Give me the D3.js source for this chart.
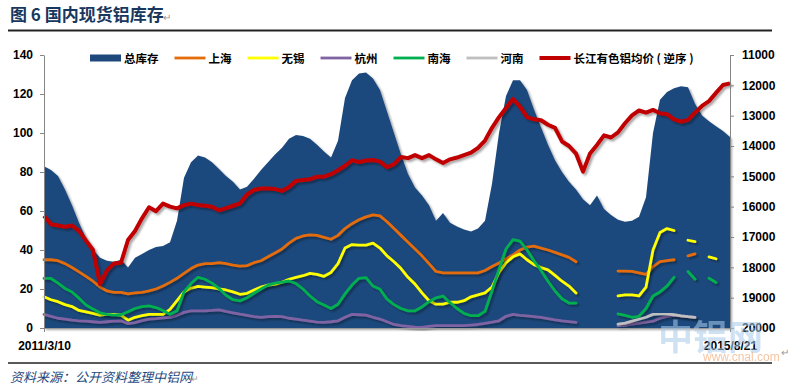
<!DOCTYPE html>
<html><head><meta charset="utf-8">
<script src="https://cdn.jsdelivr.net/npm/d3@7"></script>
<style>
body{margin:0;background:#fff;}
svg{display:block;}
</style></head>
<body><svg id="c" width="793" height="389"></svg>
<script>
const xLabels = ["2011/3/10", "2015/8/21"];
const leftTicks = [0, 20, 40, 60, 80, 100, 120, 140];
const rightTicks = [11000, 12000, 13000, 14000, 15000, 16000, 17000, 18000, 19000, 20000];
const seriesNames = ["总库存", "上海", "无锡", "杭州", "南海", "河南", "长江有色铝均价 ( 逆序 )"];

const total = [83,81,78,71,63,54,46,40,36,34.5,
34,35,31,36,38,40,41.5,42,44,55,
77,85,88.5,87.5,85,81.5,78,75,71,72.5,
76.5,81,85,89,92.5,97,99,98.5,97,94,
90.5,87.5,96,118,127,130.5,131,128,122,111,
100,89,79,72,68,63,55,59,54,52,
50.5,49.5,51,55,74,100,119,127,127,122,
112,103,94,86,80,75,71,66,63,68,
61,58,55.5,54.5,55,57,67,100,117,121,
123,124,123.5,115,109,106,103.5,101,98];

const shanghai = [35,35,34.5,33,31,28.8,26.5,24,21,19,
18.3,18.3,17.5,18,18.3,19,20,21.5,23.4,25.5,
28,30.5,32.3,33,33,33.5,33,32.3,31.7,32,
33.5,34.5,36.5,38.5,40.5,43.5,46,47.2,47.8,47.5,
46.5,45.5,47.5,51,53.5,55.5,57,58,57.5,54.5,
51,47.5,44,40.5,37,33,29,28.3,28.3,28.3,
28.3,28.3,28.3,29.5,31.5,33.3,35.5,37.5,40,41.5,
42,41,40,38.8,37.5,36.2,34,null,null,null,
null,null,29.2,29.2,29,28.3,27.5,31.5,34,34.5,
35,null,37,38,null,null,null,null,null];

const wuxi = [16,14.5,13.5,12,11,9,8.3,7.5,6.6,7,
7,6.6,4,5.5,6.3,7,7,7,9.5,14,
18.5,20.5,21.3,21,20.7,20,19.5,18.5,17.3,17.8,
19.5,21,22,22.4,23.5,25,26,26.8,28,27.5,
26.5,28.5,33,41,42.8,42.5,42.5,43.5,41,37,
34,30.5,26,22.5,18,14,12.2,12.2,13.2,13.2,
14,16,17,18,21,28.5,33.5,36.5,38,35,
32.5,31,29.8,27,24,21.5,18,null,null,null,
null,null,16.5,17,17,16.5,21,40,49,51,
50,null,45,44.3,null,36.5,35.5,null,null];

const hangzhou = [7,6,5,4.6,4,3.7,3.5,3.2,2.9,3.2,
3.5,3.7,2.2,2.8,3.8,4.5,4.8,5.2,5.4,6.5,
8,8.8,8.8,8.8,9,9.3,8.5,7.8,7.1,6.5,
5.8,5.4,5.8,6,5.8,5,4.6,4,3.5,3,
2.9,3.2,3.7,5.5,7,6.8,6.6,5.5,4.6,3.2,
1.8,1.2,0.8,0.4,0.3,0.8,1.2,1.2,1.2,1.2,
1.2,1.5,1.8,2.4,3,3.7,6,7,6.5,6.2,
5.8,5.4,4.8,4.2,3.7,3.3,2.9,null,null,null,
null,null,1.2,1.5,2,2.5,3,3.5,5,6,
6.5,6.2,5.8,5.5,null,null,null,null,null];

const nanhai = [25.4,25.4,23,20.3,18.5,15.3,11.8,9.7,7.8,7,
6.6,6.8,8.3,10,11,11.4,10.5,9,7,8.8,
18.5,22.8,26,25,23,20.3,16.8,14.5,13.9,15.5,
17.8,20,22,23,23.5,24.1,22.8,20,16.4,13.5,
11.8,10,12.2,17.5,22,25.5,25.8,21.5,19.9,14.8,
12,10,8.8,8.8,10.8,13.5,15.5,16.4,13,10,
7.5,6.3,6.3,8.5,19,30,40.5,45.3,44.5,40,
34.5,29.5,24,19,15,12.8,12.8,null,null,null,
null,null,7.2,6.5,5.5,6,10,16.4,18.5,21.5,
26,null,29,25,null,25.5,23.3,null,null];

const henan = [null,null,null,null,null,null,null,null,null,null,
null,null,null,null,null,null,null,null,null,null,
null,null,null,null,null,null,null,null,null,null,
null,null,null,null,null,null,null,null,null,null,
null,null,null,null,null,null,null,null,null,null,
null,null,null,null,null,null,null,null,null,null,
null,null,null,null,null,null,null,null,null,null,
null,null,null,null,null,null,null,null,null,null,
null,null,2,2.5,3.5,4.5,5.5,7,7.3,7.3,
6.8,6.2,5.8,5.5,null,null,null,null,null];

const price = [16300,16580,16620,16660,16620,16800,17120,17430,18550,18100,
17870,17850,17100,16800,16385,16020,16150,15900,16000,16055,
15950,15900,15945,15970,16000,16120,16050,15970,15890,15600,
15450,15400,15400,15420,15480,15350,15150,15120,15100,15010,
15010,14930,14800,14650,14470,14530,14480,14460,14515,14700,
14600,14360,14400,14300,14400,14300,14440,14560,14440,14380,
14300,14220,14060,13820,13400,13050,12750,12450,12700,13050,
13120,13150,13300,13400,13850,14000,14250,14845,14250,13965,
13650,13720,13550,13250,12990,12830,12900,12810,12920,12950,
13120,13200,13140,12900,12680,12520,12250,11990,11935];

const colors = ["#1F497D", "#E46C0A", "#FFFF00", "#8064A2", "#00B050", "#BFBFBF", "#C00000"];

const svg = d3.select("#c");
const defs = svg.append("defs");
const f = defs.append("filter").attr("id","sh").attr("x","-5%").attr("y","-5%").attr("width","115%").attr("height","120%");
f.append("feDropShadow").attr("dx",2).attr("dy",2).attr("stdDeviation",1.3).attr("flood-color","#000").attr("flood-opacity",0.35);

const N = total.length;
const x = d3.scaleLinear().domain([0, N - 1]).range([44, 730]);
const yL = d3.scaleLinear().domain([0, 140]).range([328, 55]);
const yR = d3.scaleLinear().domain([11000, 20000]).range([55, 328]);

const numFont = "'Liberation Sans', Arial, sans-serif";
const cjkFont = "'Noto Sans CJK SC', 'Noto Sans', sans-serif";

// title
svg.append("text").attr("x", 10).attr("y", 21).attr("font-family", cjkFont)
  .attr("font-size", 17).attr("font-weight", "bold").attr("fill", "#17375E").text("图 6 国内现货铝库存");
svg.append("text").attr("x", 163).attr("y", 21).attr("font-family", numFont)
  .attr("font-size", 10).attr("fill", "#999").text("↵");

// rules
svg.append("line").attr("x1", 8).attr("x2", 772).attr("y1", 30.5).attr("y2", 30.5).attr("stroke", "#222").attr("stroke-width", 2);
svg.append("line").attr("x1", 8).attr("x2", 772).attr("y1", 363).attr("y2", 363).attr("stroke", "#222").attr("stroke-width", 1.5);

// area
const area = d3.area().x((d, i) => x(i)).y0(yL(0)).y1(d => yL(d));
svg.append("path").datum(total).attr("d", area).attr("fill", colors[0]).attr("filter", "url(#sh)");

// lines
const lineL = d3.line().defined(d => d != null).x((d, i) => x(i)).y(d => yL(d));
const lineR = d3.line().x((d, i) => x(i)).y(d => yR(d));
const lineSeries = [shanghai, wuxi, hangzhou, nanhai, henan];
lineSeries.forEach((s, k) => {
  svg.append("path").datum(s).attr("d", lineL).attr("fill", "none")
    .attr("stroke", colors[k + 1]).attr("stroke-width", 2.8).attr("stroke-linejoin", "round").attr("stroke-linecap", "round")
    .attr("filter", "url(#sh)");
});
svg.append("path").datum(price).attr("d", lineR).attr("fill", "none")
  .attr("stroke", colors[6]).attr("stroke-width", 4).attr("stroke-linejoin", "round").attr("filter", "url(#sh)");

// axes
const axL = svg.append("g").attr("transform", "translate(44,0)")
  .call(d3.axisLeft(yL).tickValues(leftTicks).tickSize(4).tickSizeOuter(0).tickPadding(7));
const axR = svg.append("g").attr("transform", "translate(730,0)")
  .call(d3.axisRight(yR).tickValues(rightTicks).tickSize(4).tickSizeOuter(0).tickPadding(8).tickFormat(d3.format("d")));
const axB = svg.append("g").attr("transform", "translate(0,328)")
  .call(d3.axisBottom(x).tickValues([0, N - 1]).tickSize(4).tickSizeOuter(0).tickPadding(9).tickFormat((d, i) => xLabels[i]));
[axL, axR, axB].forEach(a => {
  a.selectAll("path.domain").attr("stroke", "#868686");
  a.selectAll(".tick line").attr("stroke", "#868686");
  a.selectAll("text").attr("font-family", numFont).attr("font-size", 12).attr("font-weight", "bold").attr("fill", "#000");
});
axB.select("path.domain").attr("stroke", "#9a9a9a");

// legend
const lg = svg.append("g").attr("transform", "translate(90,58)");
let lx = 0;
seriesNames.forEach((name, k) => {
  const g = lg.append("g").attr("transform", `translate(${lx},0)`);
  if (k === 0) {
    g.append("rect").attr("x", 0).attr("y", -3.5).attr("width", 31).attr("height", 7).attr("fill", colors[0]);
  } else {
    g.append("line").attr("x1", 0).attr("x2", 31).attr("y1", 0).attr("y2", 0)
      .attr("stroke", colors[k]).attr("stroke-width", k === 6 ? 4 : 2.8);
  }
  const t = g.append("text").attr("x", 34).attr("y", 4.5).attr("font-family", cjkFont)
    .attr("font-size", 11.5).attr("font-weight", "bold").attr("fill", "#000").attr("xml:space", "preserve").text(name);
  lx += 34 + t.node().getComputedTextLength() + 16;
});

// watermark (semi-transparent, over the chart as in the reference)
svg.append("text").attr("x", 658).attr("y", 350).attr("font-family", cjkFont)
  .attr("font-size", 35).attr("font-weight", "bold").attr("fill", "#A9CCEB").attr("opacity", 0.55).text("中铝网");
svg.append("text").attr("x", 703).attr("y", 361).attr("font-family", numFont)
  .attr("font-size", 12).attr("fill", "#F4B183").attr("opacity", 0.75).text("www.cnal.com");

svg.append("text").attr("x", 781).attr("y", 356).attr("font-family", numFont)
  .attr("font-size", 10).attr("fill", "#999").text("↵");

// footer
svg.append("text").attr("x", 10).attr("y", 382).attr("font-family", cjkFont)
  .attr("font-size", 13).attr("font-style", "italic").attr("fill", "#1F497D").text("资料来源：公开资料整理中铝网");
svg.append("text").attr("x", 191).attr("y", 382).attr("font-family", numFont)
  .attr("font-size", 9).attr("fill", "#999").text("↵");
</script>
</body></html>
